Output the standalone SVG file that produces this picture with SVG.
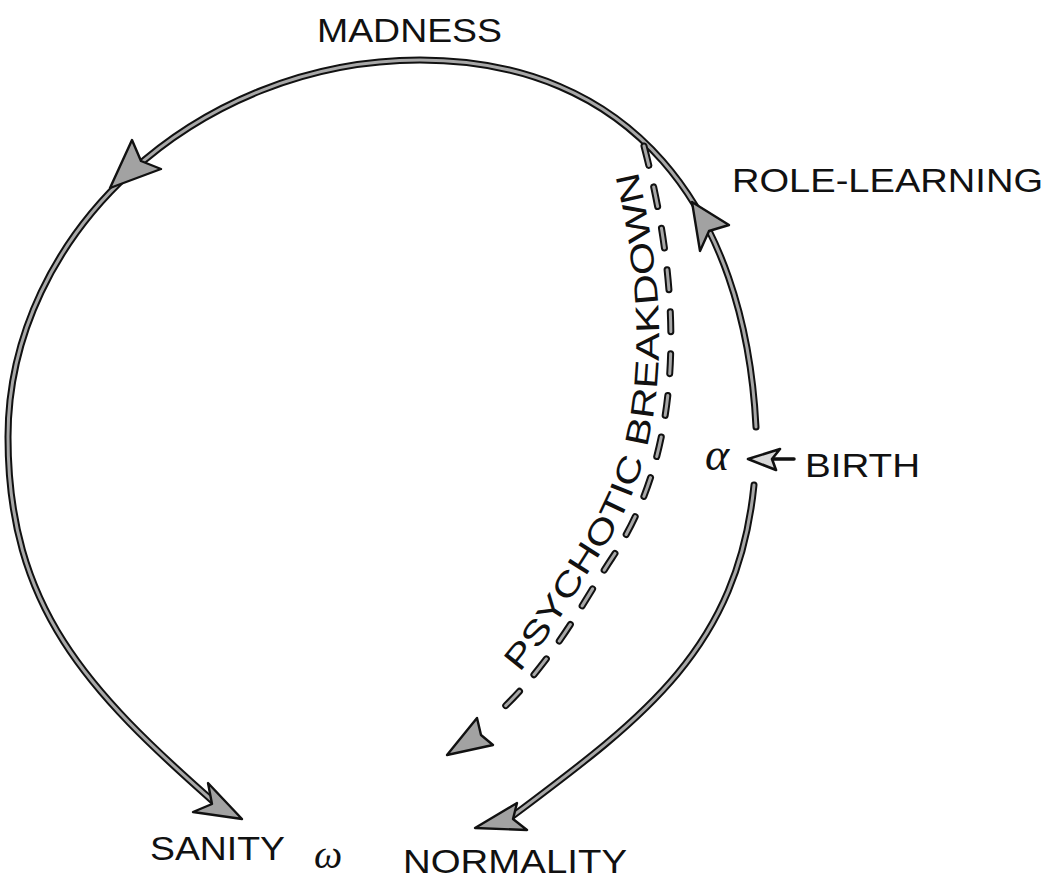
<svg xmlns="http://www.w3.org/2000/svg" width="1054" height="880" viewBox="0 0 1054 880">
<style>
.outer{fill:none;stroke:#111;stroke-width:7;stroke-linecap:round;stroke-linejoin:round}
.inner{fill:none;stroke:#a8a8a8;stroke-width:3;stroke-linecap:round;stroke-linejoin:round}
.dash{stroke-dasharray:20 22}
.head{fill:#a2a2a2;stroke:#111;stroke-width:2.4;stroke-linejoin:round}
.lbl{font-family:"Liberation Sans",Arial,sans-serif;font-size:33px;fill:#111}
.greek{font-family:"Liberation Serif","DejaVu Serif",serif;font-style:italic;fill:#111}
</style>
<rect width="1054" height="880" fill="#fff"/>
<defs>
<path id="loopA" d="M756,427 C745,207 630,60 420,60 C197.5,60 8,233.4 8,437 C8,607 87.5,690.8 215,803"/>
<path id="loopB" d="M754,485 C737.5,650 642,719 510,818"/>
<path id="breakdown" d="M644,146 C684,300 684,450 612,558 C584,600 555,660 497,714"/>
<path id="textCurve" d="M488,705 C546,651 573,594 602,551 C672,448 672,300 632,150"/>
</defs>
<g id="connectors">
  <g id="role-learning-madness-sanity">
    <use href="#loopA" class="outer"/>
    <use href="#loopA" class="inner"/>
    <polygon class="head" points="692,202 729,225 709,231 700,251"/>
    <polygon class="head" points="110,188 132,140 141,161 161,169"/>
    <polygon class="head" points="242,819 208,783 212,804 193,812"/>
  </g>
  <g id="birth-normality">
    <use href="#loopB" class="outer"/>
    <use href="#loopB" class="inner"/>
    <polygon class="head" points="475,828 517,803 513,819 527,830"/>
  </g>
  <g id="psychotic-breakdown">
    <use href="#breakdown" class="outer dash"/>
    <use href="#breakdown" class="inner dash"/>
    <polygon class="head" points="447,755 477,718 481,735 493,745"/>
  </g>
  <g id="birth-arrow">
    <line x1="770" y1="459" x2="794" y2="459" stroke="#111" stroke-width="3.5" stroke-linecap="round"/>
    <polygon points="748,459 780,449 772,459 776,470" fill="#d8d8d8" stroke="#111" stroke-width="2.6" stroke-linejoin="round"/>
  </g>
</g>
<g id="madness"><text class="lbl" x="317" y="42" textLength="185" lengthAdjust="spacingAndGlyphs">MADNESS</text></g>
<g id="role-learning"><text class="lbl" x="732" y="192" textLength="311" lengthAdjust="spacingAndGlyphs">ROLE-LEARNING</text></g>
<g id="birth"><text class="lbl" x="805" y="477" textLength="115" lengthAdjust="spacingAndGlyphs">BIRTH</text>
  <text class="greek" x="705" y="470" font-size="46">α</text></g>
<g id="sanity"><text class="lbl" x="150" y="860" textLength="135" lengthAdjust="spacingAndGlyphs">SANITY</text>
  <text class="greek" x="314" y="868" font-size="40">ω</text></g>
<g id="normality"><text class="lbl" x="403" y="873" textLength="224" lengthAdjust="spacingAndGlyphs">NORMALITY</text></g>
<g id="psychotic-breakdown-label"><text class="lbl"><textPath href="#textCurve" startOffset="45" textLength="540" lengthAdjust="spacingAndGlyphs">PSYCHOTIC BREAKDOWN</textPath></text></g>
</svg>
